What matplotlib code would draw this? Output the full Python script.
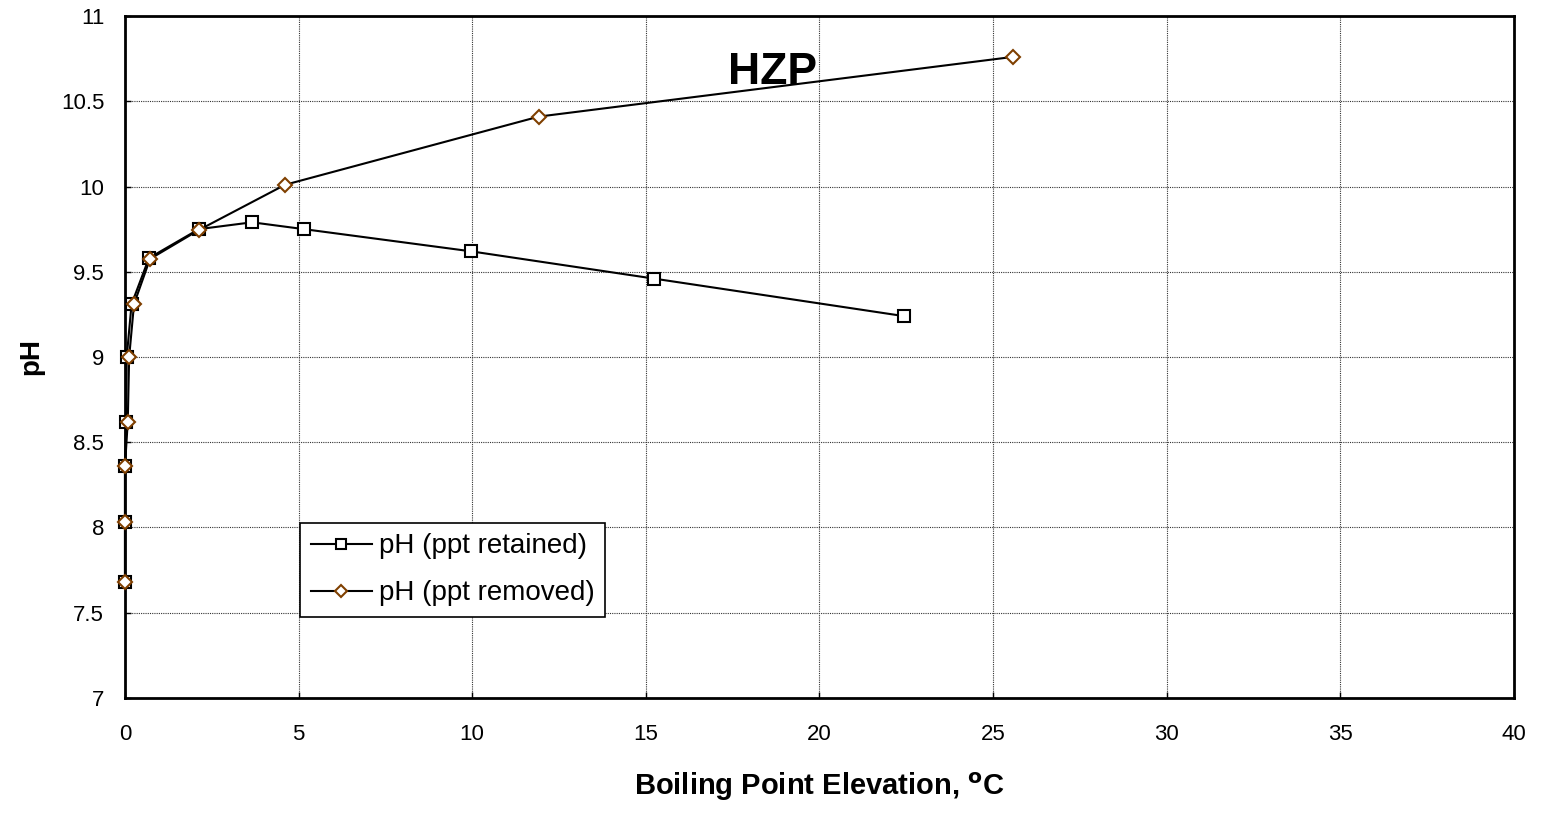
import matplotlib
matplotlib.use("Agg")
import matplotlib.pyplot as plt

plt.rcParams['font.family'] = ['Liberation Sans', 'DejaVu Sans']

# Series: ppt retained
bpe_retained = [0.0, 0.0, 0.0, 0.03, 0.05, 0.19, 0.69, 2.13, 3.66, 5.15, 9.96, 15.23, 22.43]
ph_retained = [7.68, 8.03, 8.36, 8.62, 9.00, 9.31, 9.58, 9.75, 9.79, 9.75, 9.62, 9.46, 9.24]

# Series: ppt removed
bpe_removed = [0.0, 0.0, 0.0, 0.08, 0.12, 0.26, 0.72, 2.13, 4.61, 11.92, 25.57]
ph_removed = [7.68, 8.03, 8.36, 8.62, 9.00, 9.31, 9.575, 9.745, 10.01, 10.41, 10.76]

x_ticks = [0, 5, 10, 15, 20, 25, 30, 35, 40]
y_ticks = [7, 7.5, 8, 8.5, 9, 9.5, 10, 10.5, 11]
y_ticklabels = ['7', '7.5', '8', '8.5', '9', '9.5', '10', '10.5', '11']

fig = plt.figure(figsize=(15.43, 8.17), dpi=100)
ax = fig.add_axes([0.081, 0.1457, 0.900, 0.8347])

ax.plot(bpe_retained, ph_retained, color='black', lw=1.5, marker='s',
        markersize=8, markerfacecolor='white', markeredgecolor='black',
        markeredgewidth=1.5, label='pH (ppt retained)', zorder=3, clip_on=False)
ax.plot(bpe_removed, ph_removed, color='black', lw=1.5, marker='D',
        markersize=7, markerfacecolor='white', markeredgecolor='#7f3f00',
        markeredgewidth=1.5, label='pH (ppt removed)', zorder=4, clip_on=False)

ax.set_xlim(0, 40)
ax.set_ylim(7, 11)
ax.set_xticks(x_ticks)
ax.set_xticklabels([str(t) for t in x_ticks])
ax.set_yticks(y_ticks)
ax.set_yticklabels(y_ticklabels)
ax.tick_params(direction='in', length=4, width=1, labelsize=16)
ax.tick_params(axis='y', pad=15)
ax.tick_params(axis='x', pad=19)
ax.grid(True, color='#333333', linestyle=(0, (1, 1)), linewidth=0.8)
for s in ax.spines.values():
    s.set_linewidth(2)
    s.set_color('black')

ax.set_xlabel('Boiling Point Elevation, $^{\\mathbf{o}}$C', fontsize=21,
              fontweight='bold', labelpad=18)
ax.set_ylabel('pH', fontsize=20, fontweight='bold', labelpad=12)

ax.text(18.66, 10.67, 'HZP', fontsize=32, fontweight='bold',
        ha='center', va='center')

leg = ax.legend(loc='lower left', bbox_to_anchor=(0.126, 0.119),
                fontsize=20, frameon=True, fancybox=False,
                edgecolor='black', framealpha=1, borderpad=0.38,
                handlelength=2.2, labelspacing=0.75, handletextpad=0.25,
                borderaxespad=0, markerscale=0.9)
leg.get_frame().set_linewidth(1.2)

fig.savefig('out.png', dpi=100)
